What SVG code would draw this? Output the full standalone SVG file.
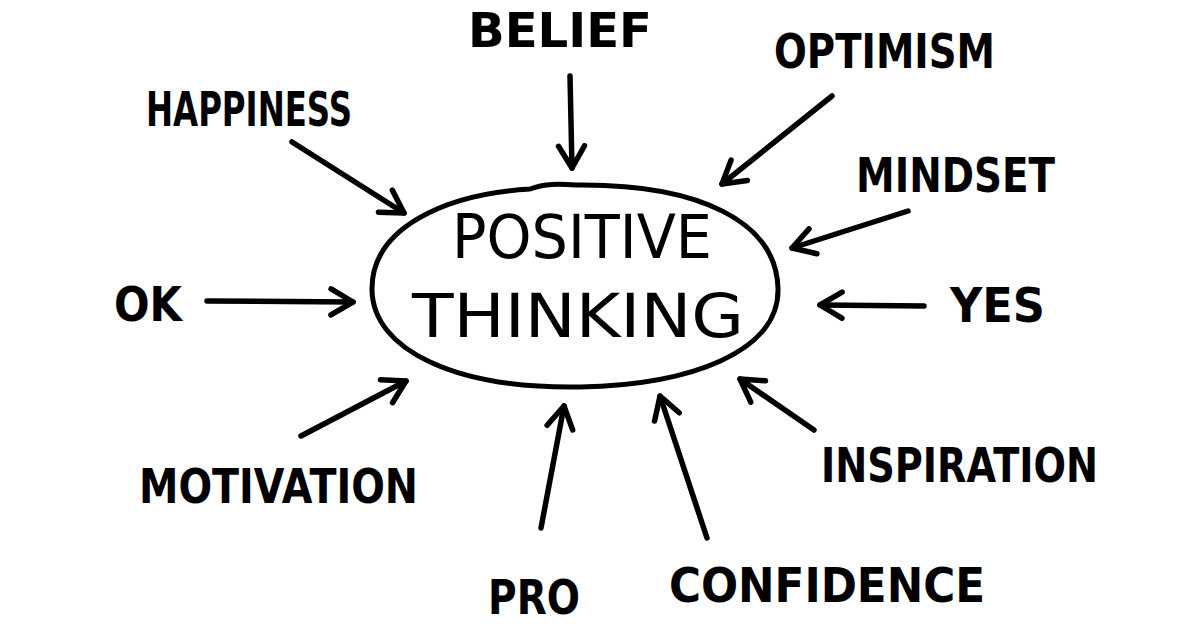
<svg xmlns="http://www.w3.org/2000/svg" width="1200" height="630" viewBox="0 0 1200 630">
<defs>
<marker id="ah" markerUnits="userSpaceOnUse" markerWidth="40" markerHeight="40" refX="0" refY="0" viewBox="-30 -20 40 40" orient="auto">
<path d="M-22,-13 L0,0 L-22,13" fill="none" stroke="#000" stroke-width="5.5" stroke-linecap="round" stroke-linejoin="round"/>
</marker>
</defs>
<style>
.lbl{font-family:"DejaVu Sans","Liberation Sans",sans-serif;font-weight:bold;font-size:48px;fill:#000}
.ctr{font-family:"DejaVu Sans","Liberation Sans",sans-serif;font-size:60px;fill:#000}
.arr{fill:none;stroke:#000;stroke-width:5.5;stroke-linecap:round;marker-end:url(#ah)}
</style>
<rect width="1200" height="630" fill="#fff"/>
<g id="center">
<path d="M530,189 C545,183 560,184 578,185 C700,184 776,222 778,288 C780,352 690,385 580,387 C455,389 373,350 372,290 C371,228 445,194 530,189 Z" fill="none" stroke="#000" stroke-width="5"/>
<text class="ctr" x="452" y="258" textLength="260" lengthAdjust="spacingAndGlyphs">POSITIVE</text>
<text class="ctr" x="412" y="337" textLength="332" lengthAdjust="spacingAndGlyphs">THINKING</text>
</g>
<g id="connectors">
<line class="arr" x1="570" y1="76" x2="572" y2="168"/>
<line class="arr" x1="832" y1="96" x2="722" y2="184"/>
<line class="arr" x1="292" y1="142" x2="404" y2="213"/>
<line class="arr" x1="908" y1="211" x2="792" y2="248"/>
<line class="arr" x1="207" y1="301" x2="353" y2="302"/>
<line class="arr" x1="924" y1="306" x2="820" y2="305"/>
<line class="arr" x1="814" y1="430" x2="740" y2="379"/>
<line class="arr" x1="301" y1="436" x2="406" y2="381"/>
<line class="arr" x1="541" y1="528" x2="564" y2="406"/>
<line class="arr" x1="707" y1="538" x2="660" y2="396"/>
</g>
<g id="belief"><text class="lbl" x="468" y="47" textLength="184" lengthAdjust="spacingAndGlyphs">BELIEF</text></g>
<g id="optimism"><text class="lbl" x="774" y="68" textLength="221" lengthAdjust="spacingAndGlyphs">OPTIMISM</text></g>
<g id="happiness"><text class="lbl" x="146" y="126" textLength="206" lengthAdjust="spacingAndGlyphs">HAPPINESS</text></g>
<g id="mindset"><text class="lbl" x="856" y="192" textLength="199" lengthAdjust="spacingAndGlyphs">MINDSET</text></g>
<g id="ok"><text class="lbl" x="114" y="321" textLength="68" lengthAdjust="spacingAndGlyphs">OK</text></g>
<g id="yes"><text class="lbl" x="950" y="322" textLength="95" lengthAdjust="spacingAndGlyphs">YES</text></g>
<g id="inspiration"><text class="lbl" x="821" y="482" textLength="277" lengthAdjust="spacingAndGlyphs">INSPIRATION</text></g>
<g id="motivation"><text class="lbl" x="139" y="503" textLength="279" lengthAdjust="spacingAndGlyphs">MOTIVATION</text></g>
<g id="pro"><text class="lbl" x="488" y="614" textLength="92" lengthAdjust="spacingAndGlyphs">PRO</text></g>
<g id="confidence"><text class="lbl" x="669" y="602" textLength="316" lengthAdjust="spacingAndGlyphs">CONFIDENCE</text></g>
</svg>
